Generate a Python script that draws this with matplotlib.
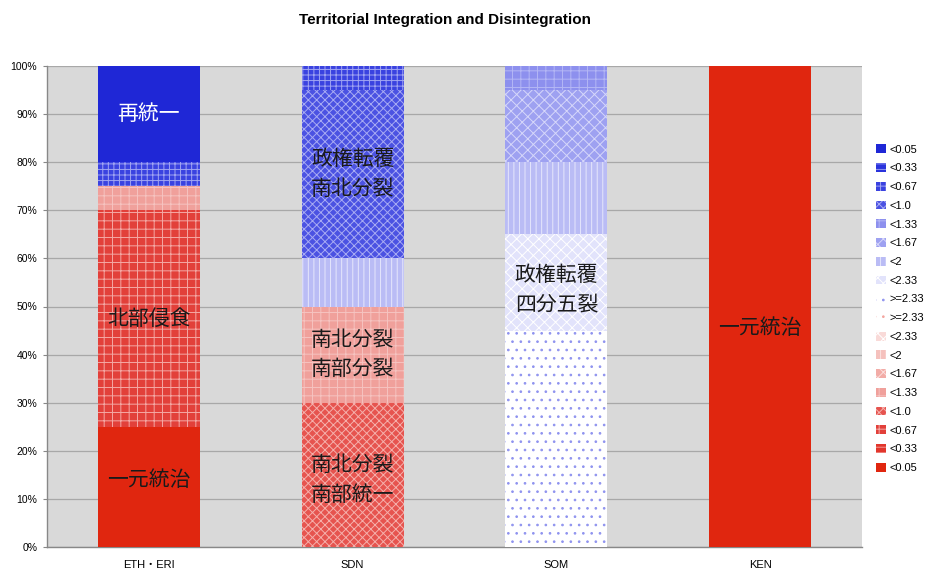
import matplotlib
matplotlib.use("Agg")

import matplotlib.pyplot as plt
import numpy as np
from matplotlib.patches import Patch

plt.rcParams["font.family"] = ["Liberation Sans", "Noto Sans CJK JP", "DejaVu Sans"]
plt.rcParams["hatch.linewidth"] = 0.7

# --- Data ---------------------------------------------------------------------
countries = ["ETH・ERI", "SDN", "SOM", "KEN"]

# Stacked from the bottom: red classes first (unified -> fragmented), then blue
red_levels = ["<0.05", "<0.33", "<0.67", "<1.0", "<1.33", "<1.67", "<2", "<2.33", ">=2.33"]
blue_levels = [">=2.33", "<2.33", "<2", "<1.67", "<1.33", "<1.0", "<0.67", "<0.33", "<0.05"]

# Share (%) of each class per country, rows follow the level lists above
red_shares = [
    [25, 0, 0, 100],   # <0.05
    [0, 0, 0, 0],      # <0.33
    [45, 0, 0, 0],     # <0.67
    [0, 30, 0, 0],     # <1.0
    [5, 20, 0, 0],     # <1.33
    [0, 0, 0, 0],      # <1.67
    [0, 0, 0, 0],      # <2
    [0, 0, 0, 0],      # <2.33
    [0, 0, 0, 0],      # >=2.33
]
blue_shares = [
    [0, 0, 45, 0],     # >=2.33
    [0, 0, 20, 0],     # <2.33
    [0, 10, 15, 0],    # <2
    [0, 0, 15, 0],     # <1.67
    [0, 0, 5, 0],      # <1.33
    [0, 35, 0, 0],     # <1.0
    [5, 5, 0, 0],      # <0.67
    [0, 0, 0, 0],      # <0.33
    [20, 0, 0, 0],     # <0.05
]

# Segment captions: (country index, y position in %, text, colour)
captions = [
    (0, 90, "再統一", "white"),
    (0, 47.5, "北部侵食", "#1a1a1a"),
    (0, 14, "一元統治", "#1a1a1a"),
    (1, 77.5, "政権転覆\n南北分裂", "#1a1a1a"),
    (1, 40, "南北分裂\n南部分裂", "#1a1a1a"),
    (1, 14, "南北分裂\n南部統一", "#1a1a1a"),
    (2, 53.5, "政権転覆\n四分五裂", "#1a1a1a"),
    (3, 45.5, "一元統治", "#1a1a1a"),
]

# --- Fill styles: (face colour, hatch, hatch colour) ---------------------------
red_style = {
    "<0.05": ("#e0260f", None, "#e0260f"),
    "<0.33": ("#e2362c", "---", "#f29a94"),
    "<0.67": ("#e2403a", "++", "#f4a8a4"),
    "<1.0": ("#e6544f", "xxxx", "#f5b0ac"),
    "<1.33": ("#f0a09b", "++", "#f6c3c0"),
    "<1.67": ("#f2aca7", "xxx", "#fbdedc"),
    "<2": ("#f5c1bd", "|||", "#fce3e1"),
    "<2.33": ("#f9dad8", "xxx", "#ffffff"),
    ">=2.33": ("#ffffff", "..", "#f4a6a0"),
}
blue_style = {
    "<0.05": ("#1f27d6", None, "#1f27d6"),
    "<0.33": ("#2a33dc", "---", "#8f93ef"),
    "<0.67": ("#3a42e0", "+++", "#a0a4f2"),
    "<1.0": ("#4b52e2", "xxxx", "#a8abf3"),
    "<1.33": ("#8d90ee", "++", "#b4b7f5"),
    "<1.67": ("#9ea1f1", "xxx", "#d6d7fa"),
    "<2": ("#babcf5", "|||", "#e6e7fc"),
    "<2.33": ("#e2e3fb", "xxx", "#ffffff"),
    ">=2.33": ("#ffffff", "..", "#8f93ef"),
}

series = ([("red", lv, v) for lv, v in zip(red_levels, red_shares)]
          + [("blue", lv, v) for lv, v in zip(blue_levels, blue_shares)])

# --- Figure -----------------------------------------------------------------
fig = plt.figure(figsize=(9.3, 5.74), dpi=100)
ax = fig.add_axes([47 / 930, 1 - 547 / 574, 815 / 930, 481 / 574])
ax.set_facecolor("#d9d9d9")

x = np.arange(len(countries))
bottom = np.zeros(len(countries))
handles = []
for side, level, vals in series:
    face, hatch, hcol = (red_style if side == "red" else blue_style)[level]
    vals = np.array(vals, dtype=float)
    ax.bar(x, vals, width=0.5, bottom=bottom, color=face, edgecolor=hcol,
           hatch=hatch, linewidth=0, zorder=3)
    bottom += vals
    handles.append(Patch(facecolor=face, edgecolor=hcol, hatch=hatch,
                         linewidth=0, label=level))

for ci, y, text, color in captions:
    ax.text(x[ci], y, text, ha="center", va="center", fontsize=15,
            color=color, linespacing=1.45, zorder=4,
            family=["Noto Sans CJK JP", "DejaVu Sans"])

ax.set_xlim(-0.5, len(countries) - 0.5)
ax.set_ylim(0, 100)
ax.set_yticks(np.arange(0, 101, 10))
ax.set_yticklabels([f"{v}%" for v in range(0, 101, 10)], fontsize=7.5)
ax.set_xticks(x)
ax.set_xticklabels(countries, fontsize=8)
ax.grid(axis="y", color="#a8a8a8", linewidth=0.9, zorder=0)
ax.tick_params(axis="y", length=3, color="#888888", pad=4)
ax.tick_params(axis="x", length=0, pad=9)
for name, spine in ax.spines.items():
    if name in ("left", "bottom"):
        spine.set_color("#888888")
        spine.set_linewidth(1.0)
    else:
        spine.set_visible(False)

# Legend lists the top of the stack first
leg = fig.legend(handles=handles[::-1], loc="upper left",
                 bbox_to_anchor=(872 / 930, 1 - 140 / 574), frameon=False,
                 fontsize=8, handlelength=0.85, handleheight=0.85,
                 handletextpad=0.3, labelspacing=0.76, borderaxespad=0)

fig.text(445 / 930, 1 - 20 / 574, "Territorial Integration and Disintegration",
         ha="center", va="center", fontsize=11, fontweight="bold")

fig.savefig("out.png", dpi=100)
